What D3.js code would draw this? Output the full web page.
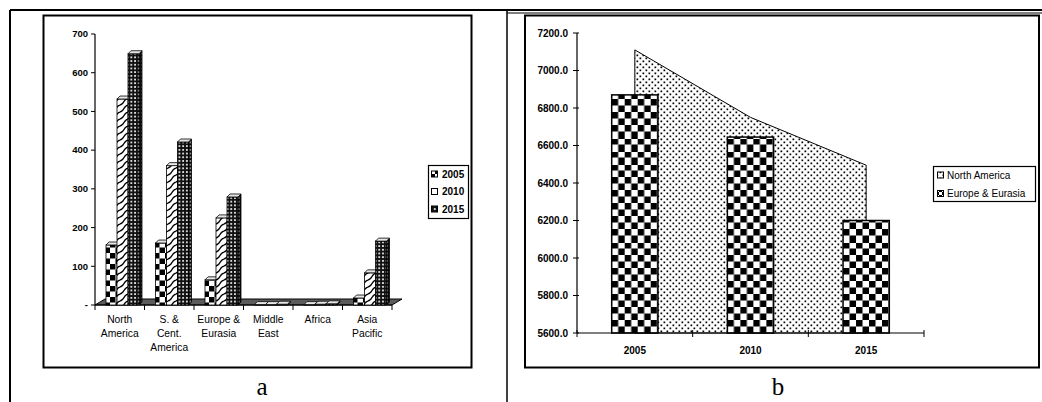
<!DOCTYPE html>
<html>
<head>
<meta charset="utf-8">
<script src="https://cdn.jsdelivr.net/npm/d3@7"></script>
<style>
  body { margin: 0; background: #fff; }
  svg { display: block; }
</style>
</head>
<body>
<script>
// ---- Panel a: production by region (3D clustered columns) ----
const regions = ["North America", "S. & Cent. America", "Europe & Eurasia", "Middle East", "Africa", "Asia Pacific"];
const regionLines = [["North", "America"], ["S. &", "Cent.", "America"], ["Europe &", "Eurasia"], ["Middle", "East"], ["Africa"], ["Asia", "Pacific"]];
const seriesYears = ["2005", "2010", "2015"];
const values2005 = [155, 160, 65, 1, 1, 18];
const values2010 = [532, 360, 225, 1, 2, 83];
const values2015 = [649, 421, 279, 2, 3, 165];
const ticksA = [0, 100, 200, 300, 400, 500, 600, 700];

// ---- Panel b: North America area vs Europe & Eurasia columns ----
const yearsB = ["2005", "2010", "2015"];
const northAmerica = [7110, 6750, 6495];
const europeEurasia = [6870, 6645, 6200];
const ticksB = [5600, 5800, 6000, 6200, 6400, 6600, 6800, 7000, 7200];

const W = 1042, H = 402;
const FONT = "'Liberation Sans', Arial, sans-serif";

const svg = d3.select("body").append("svg")
  .attr("width", W).attr("height", H)
  .style("font-family", FONT);
svg.append("rect").attr("width", W).attr("height", H).attr("fill", "#fff");
const defs = svg.append("defs");

// ---------- fill patterns ----------
function checker(id, size, x0, y0) {
  const p = defs.append("pattern").attr("id", id)
    .attr("patternUnits", "userSpaceOnUse")
    .attr("width", size * 2).attr("height", size * 2)
    .attr("x", x0).attr("y", y0);
  p.append("rect").attr("width", size * 2).attr("height", size * 2).attr("fill", "#fff");
  p.append("rect").attr("width", size).attr("height", size).attr("fill", "#000");
  p.append("rect").attr("x", size).attr("y", size).attr("width", size).attr("height", size).attr("fill", "#000");
}
checker("chkA", 5.5, 0, 0);
checker("chkSw", 3, 0, 0);

// wave stripes
(function () {
  const p = defs.append("pattern").attr("id", "wave")
    .attr("patternUnits", "userSpaceOnUse").attr("width", 8).attr("height", 7);
  p.append("rect").attr("width", 8).attr("height", 7).attr("fill", "#fff");
  ["M-1,7 Q2,7 4,3.5 T9,0", "M-1,14 Q2,14 4,10.5 T9,7", "M-1,0 Q2,0 4,-3.5 T9,-7"].forEach(d => {
    p.append("path").attr("d", d).attr("fill", "none")
      .attr("stroke", "#000").attr("stroke-width", 1.4);
  });
})();

// dark grid
(function () {
  const s = 3.7;
  const p = defs.append("pattern").attr("id", "grid")
    .attr("patternUnits", "userSpaceOnUse").attr("width", s).attr("height", s);
  p.append("rect").attr("width", s).attr("height", s).attr("fill", "#111");
  p.append("rect").attr("x", 1).attr("y", 1).attr("width", 1.7).attr("height", 1.7).attr("fill", "#fff");
})();

// dotted
(function () {
  const p = defs.append("pattern").attr("id", "dots")
    .attr("patternUnits", "userSpaceOnUse").attr("width", 6).attr("height", 6);
  p.append("rect").attr("width", 6).attr("height", 6).attr("fill", "#fff");
  p.append("rect").attr("x", 0.5).attr("y", 0.5).attr("width", 1.7).attr("height", 1.7).attr("fill", "#000");
  p.append("rect").attr("x", 3.5).attr("y", 3.5).attr("width", 1.7).attr("height", 1.7).attr("fill", "#000");
})();

const seriesFill = { "2005": "url(#chkA)", "2010": "url(#wave)", "2015": "url(#grid)" };

// ---------- outer frame ----------
svg.append("line").attr("x1", 10).attr("x2", W).attr("y1", 10).attr("y2", 10)
  .attr("stroke", "#000").attr("stroke-width", 2);
svg.append("line").attr("x1", 507).attr("x2", W).attr("y1", 13).attr("y2", 13)
  .attr("stroke", "#000").attr("stroke-width", 1);
svg.append("line").attr("x1", 10).attr("x2", 10).attr("y1", 10).attr("y2", H)
  .attr("stroke", "#000").attr("stroke-width", 2);
svg.append("line").attr("x1", 507).attr("x2", 507).attr("y1", 10).attr("y2", H)
  .attr("stroke", "#000").attr("stroke-width", 1.5);

// =====================================================================
// Panel a
// =====================================================================
const gA = svg.append("g");
gA.append("rect").attr("x", 43.5).attr("y", 15.5).attr("width", 428).attr("height", 352)
  .attr("fill", "none").attr("stroke", "#000").attr("stroke-width", 2);

const yA = d3.scaleLinear().domain([0, 700]).range([305, 34]);
const xA = d3.scaleBand().domain(regions).range([95, 392]);
const xInner = d3.scaleBand().domain(seriesYears).range([11, 44]);
const floorDx = 10, floorDy = 6, depth = 3;

// floor
const [fx0, fx1] = xA.range();
const fy = yA(0);
gA.append("polygon")
  .attr("points", [[fx0, fy], [fx1, fy], [fx1 + floorDx, fy - floorDy], [fx0 + floorDx, fy - floorDy]].join(" "))
  .attr("fill", "#5c5c5c").attr("stroke", "#000").attr("stroke-width", 1);

// y axis
gA.append("line").attr("x1", 95).attr("x2", 95).attr("y1", yA(700)).attr("y2", yA(0))
  .attr("stroke", "#000").attr("stroke-width", 1.2);
ticksA.forEach(t => {
  gA.append("line").attr("x1", 91).attr("x2", 95).attr("y1", yA(t)).attr("y2", yA(t))
    .attr("stroke", "#000").attr("stroke-width", 1);
  gA.append("text").attr("x", 88).attr("y", yA(t)).attr("dy", "0.35em")
    .attr("text-anchor", "end").attr("font-size", 9.5).attr("font-weight", "bold")
    .text(t === 0 ? "-" : t);
});

// x axis
gA.append("line").attr("x1", fx0).attr("x2", fx1).attr("y1", fy).attr("y2", fy)
  .attr("stroke", "#000").attr("stroke-width", 1.2);
regions.concat([null]).forEach(c => {
  const x = c === null ? fx1 : xA(c);
  gA.append("line").attr("x1", x).attr("x2", x).attr("y1", fy).attr("y2", fy + 5)
    .attr("stroke", "#000").attr("stroke-width", 1);
});
regions.forEach((c, i) => {
  const t = gA.append("text").attr("text-anchor", "middle").attr("font-size", 10.3);
  regionLines[i].forEach((ln, k) => {
    t.append("tspan").attr("x", xA(c) + xA.bandwidth() / 2).attr("y", 323 + k * 13.8).text(ln);
  });
});

// bars
const seriesValues = { "2005": values2005, "2010": values2010, "2015": values2015 };
regions.forEach((c, i) => {
  seriesYears.forEach(yr => {
    const v = seriesValues[yr][i];
    const x = xA(c) + xInner(yr);
    const w = xInner.bandwidth();
    const top = yA(v), base = yA(0);
    const side = [[x + w, base], [x + w + depth, base - depth], [x + w + depth, top - depth], [x + w, top]].join(" ");
    gA.append("polygon").attr("points", side).attr("fill", seriesFill[yr])
      .attr("stroke", "#000").attr("stroke-width", 0.8);
    gA.append("polygon").attr("points", side).attr("fill", "rgba(0,0,0,0.35)");
    gA.append("rect").attr("x", x).attr("y", top).attr("width", w).attr("height", base - top)
      .attr("fill", seriesFill[yr]).attr("stroke", "#000").attr("stroke-width", 0.8);
    gA.append("polygon")
      .attr("points", [[x, top], [x + w, top], [x + w + depth, top - depth], [x + depth, top - depth]].join(" "))
      .attr("fill", "#e6e6e6").attr("stroke", "#000").attr("stroke-width", 0.8);
  });
});

// legend
gA.append("rect").attr("x", 428.5).attr("y", 165.5).attr("width", 40).attr("height", 53)
  .attr("fill", "#fff").attr("stroke", "#000").attr("stroke-width", 1.2);
const legendFillA = { "2005": "url(#chkSw)", "2010": "#fff", "2015": "url(#grid)" };
seriesYears.forEach((yr, k) => {
  const cy = 174 + k * 17.5;
  gA.append("rect").attr("x", 431.5).attr("y", cy - 3).attr("width", 6).attr("height", 6)
    .attr("fill", legendFillA[yr]).attr("stroke", "#000").attr("stroke-width", 1);
  gA.append("text").attr("x", 442).attr("y", cy).attr("dy", "0.36em")
    .attr("font-size", 10).attr("font-weight", "bold").text(yr);
});

// =====================================================================
// Panel b
// =====================================================================
const gB = svg.append("g");
gB.append("rect").attr("x", 525).attr("y", 15.5).attr("width", 514).attr("height", 352)
  .attr("fill", "none").attr("stroke", "#000").attr("stroke-width", 2);

const yB = d3.scaleLinear().domain([5600, 7200]).range([333, 33]);
const xB = d3.scaleBand().domain(yearsB).range([577, 924]);
const bwB = xB.bandwidth();
const cx = yr => xB(yr) + bwB / 2;

// North America area
const naData = yearsB.map((yr, i) => ({ yr, v: northAmerica[i] }));
const area = d3.area().x(d => cx(d.yr)).y0(yB(5600)).y1(d => yB(d.v));
gB.append("path").attr("d", area(naData)).attr("fill", "url(#dots)")
  .attr("stroke", "#000").attr("stroke-width", 1);

// Europe & Eurasia bars
const barW = bwB * 0.4;
yearsB.forEach((yr, i) => {
  const x = cx(yr) - barW / 2;
  const top = yB(europeEurasia[i]);
  const base = yB(5600);
  checker("chkB" + i, 6.5, x, base);
  gB.append("rect").attr("x", x).attr("y", top).attr("width", barW).attr("height", base - top)
    .attr("fill", `url(#chkB${i})`).attr("stroke", "#000").attr("stroke-width", 1.5);
});

// y axis
gB.append("line").attr("x1", 577).attr("x2", 577).attr("y1", yB(7200)).attr("y2", yB(5600))
  .attr("stroke", "#000").attr("stroke-width", 1.2);
ticksB.forEach(t => {
  gB.append("line").attr("x1", 573).attr("x2", 579).attr("y1", yB(t)).attr("y2", yB(t))
    .attr("stroke", "#000").attr("stroke-width", 1);
  gB.append("text").attr("x", 568).attr("y", yB(t)).attr("dy", "0.35em")
    .attr("text-anchor", "end").attr("font-size", 10).attr("font-weight", "bold")
    .text(d3.format(".1f")(t));
});

// x axis
const [bx0, bx1] = xB.range();
gB.append("line").attr("x1", bx0).attr("x2", bx1).attr("y1", yB(5600)).attr("y2", yB(5600))
  .attr("stroke", "#000").attr("stroke-width", 1.2);
yearsB.concat([null]).forEach(yr => {
  const x = yr === null ? bx1 : xB(yr);
  gB.append("line").attr("x1", x).attr("x2", x).attr("y1", yB(5600) - 3).attr("y2", yB(5600) + 4)
    .attr("stroke", "#000").attr("stroke-width", 1);
});
yearsB.forEach(yr => {
  gB.append("text").attr("x", cx(yr)).attr("y", 354).attr("text-anchor", "middle")
    .attr("font-size", 10).attr("font-weight", "bold").text(yr);
});

// legend
gB.append("rect").attr("x", 933.5).attr("y", 166.5).attr("width", 102).attr("height", 35)
  .attr("fill", "#fff").attr("stroke", "#000").attr("stroke-width", 1.2);
const legendB = [["North America", "url(#dots)"], ["Europe & Eurasia", "url(#chkSw)"]];
legendB.forEach(([name, fill], k) => {
  const cy = 175 + k * 18.5;
  gB.append("rect").attr("x", 937.5).attr("y", cy - 3).attr("width", 6).attr("height", 6)
    .attr("fill", fill).attr("stroke", "#000").attr("stroke-width", 1);
  gB.append("text").attr("x", 947).attr("y", cy).attr("dy", "0.36em")
    .attr("font-size", 10).text(name);
});

// panel captions
const SERIF = "'Liberation Serif', 'Times New Roman', serif";
svg.append("text").attr("x", 262).attr("y", 395).attr("text-anchor", "middle")
  .attr("font-family", SERIF).attr("font-size", 25).text("a");
svg.append("text").attr("x", 778).attr("y", 395).attr("text-anchor", "middle")
  .attr("font-family", SERIF).attr("font-size", 25).text("b");
</script>
</body>
</html>
